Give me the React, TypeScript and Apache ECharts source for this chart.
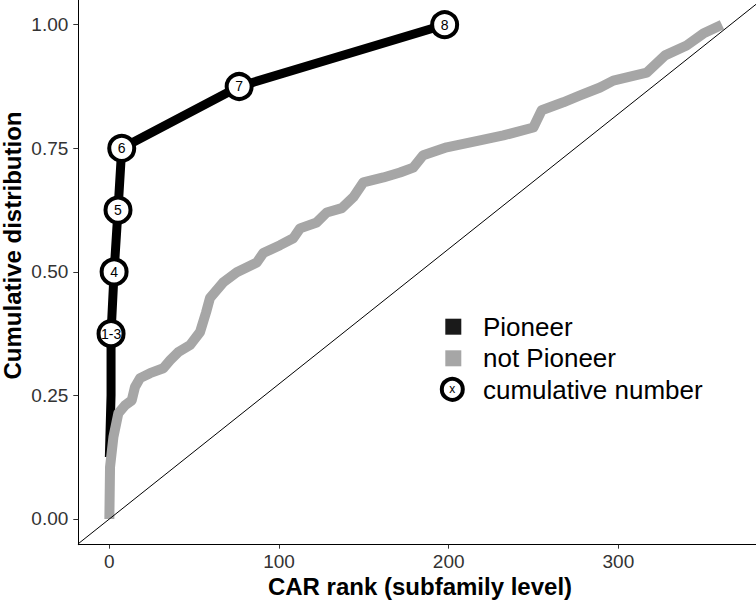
import React, { useEffect, useRef } from "react";
import * as echarts from "echarts";

// ---- data ----
const xTickValues = [0, 100, 200, 300];
const yTickValues = [0, 0.25, 0.5, 0.75, 1];

const pioneerRank = [0, 1, 1, 2.8, 5.1, 7.3, 76.5, 197.6];
const pioneerCum = [0.125, 0.25, 0.375, 0.5, 0.625, 0.75, 0.875, 1];
const pioneerLabels = ["", "", "1-3", "4", "5", "6", "7", "8"];

const notPioneerRank = [
  0, 0.4, 2.4, 5.3, 9.3, 13.2, 15.1, 18.1, 24.0, 31.8, 35.8, 40.7, 47.6, 53.4,
  57.0, 59.3, 67.2, 75.1, 86.9, 90.7, 100.6, 108.4, 112.4, 122.2, 128.1, 137.0,
  143.8, 149.7, 161.5, 171.3, 179.1, 185.0, 198.8, 218.4, 232.2, 249.9, 254.8,
  267.5, 277.4, 289.2, 297.0, 316.7, 327.5, 340.2, 350.0, 361,
];
const notPioneerCum = [
  0, 0.105, 0.166, 0.214, 0.23, 0.24, 0.267, 0.285, 0.295, 0.305, 0.321, 0.338,
  0.352, 0.378, 0.418, 0.447, 0.479, 0.499, 0.519, 0.538, 0.554, 0.568, 0.588,
  0.6, 0.62, 0.629, 0.651, 0.681, 0.691, 0.701, 0.711, 0.736, 0.752, 0.766,
  0.776, 0.792, 0.827, 0.843, 0.857, 0.873, 0.887, 0.903, 0.938, 0.958, 0.982,
  1.0,
];

const totalRanks = 366; // reference diagonal: cumulative = rank / totalRanks
const xMin = -18.3;
const xMax = 381.1;
const yMin = -0.052;
const yMax = 1.05;

const legendItems = ["Pioneer", "not Pioneer", "cumulative number"];

export default function App() {
  const ref = useRef<HTMLDivElement>(null);
  useEffect(() => {
    const chart = echarts.init(ref.current!, null, { renderer: "svg" });
    const font = "'Liberation Sans', Arial, Helvetica, sans-serif";
    const grayCol = "#a6a6a6";
    chart.setOption({
      animation: false,
      grid: {
        left: 78.3,
        right: 0,
        top: 0,
        bottom: 57.3,
        containLabel: false,
        outerBoundsMode: "none",
      },
      xAxis: {
        type: "value",
        min: xMin,
        max: xMax,
        splitLine: { show: false },
        axisLine: { show: true, onZero: false, lineStyle: { color: "#000", width: 1 } },
        axisTick: {
          show: true,
          length: 4,
          customValues: xTickValues,
          lineStyle: { color: "#333" },
        },
        axisLabel: {
          customValues: xTickValues,
          margin: 7,
          fontSize: 19,
          color: "#333",
          fontFamily: font,
          formatter: (v: number) => String(v),
        },
      },
      yAxis: {
        type: "value",
        min: yMin,
        max: yMax,
        splitLine: { show: false },
        axisLine: { show: true, onZero: false, lineStyle: { color: "#000", width: 1 } },
        axisTick: {
          show: true,
          length: 5,
          customValues: yTickValues,
          lineStyle: { color: "#333" },
        },
        axisLabel: {
          customValues: yTickValues,
          margin: 10,
          fontSize: 19,
          color: "#333",
          fontFamily: font,
          formatter: (v: number) => v.toFixed(2),
        },
      },
      series: [
        {
          type: "line",
          data: pioneerRank.map((x, i) => [x, pioneerCum[i]]),
          symbol: "none",
          lineStyle: { color: "#000", width: 9, cap: "butt", join: "round" },
          z: 2,
        },
        {
          type: "line",
          data: notPioneerRank.map((x, i) => [x, notPioneerCum[i]]),
          symbol: "none",
          lineStyle: { color: grayCol, width: 10, cap: "butt", join: "round" },
          z: 3,
        },
        {
          type: "line",
          data: [
            [xMin, xMin / totalRanks],
            [xMax, xMax / totalRanks],
          ],
          symbol: "none",
          lineStyle: { color: "#000", width: 1 },
          z: 4,
        },
        {
          type: "scatter",
          data: pioneerRank
            .map((x, i) => ({ value: [x, pioneerCum[i]], name: pioneerLabels[i] }))
            .filter((d) => d.name !== ""),
          symbol: "circle",
          symbolSize: 25,
          itemStyle: { color: "#fff", borderColor: "#000", borderWidth: 4, opacity: 1 },
          label: {
            show: true,
            position: "inside",
            formatter: "{b}",
            fontSize: 14,
            color: "#000",
            fontFamily: font,
          },
          z: 5,
        },
      ],
      graphic: [
        {
          type: "text",
          x: 420,
          y: 586,
          style: {
            text: "CAR rank (subfamily level)",
            font: `bold 24px ${font}`,
            fill: "#000",
            align: "center",
            verticalAlign: "middle",
            textAlign: "center",
            textVerticalAlign: "middle",
          },
        },
        {
          type: "text",
          x: 12.5,
          y: 245.5,
          rotation: Math.PI / 2,
          style: {
            text: "Cumulative distribution",
            font: `bold 24px ${font}`,
            fill: "#000",
            align: "center",
            verticalAlign: "middle",
            textAlign: "center",
            textVerticalAlign: "middle",
          },
        },
        {
          type: "rect",
          shape: { x: 445.3, y: 318.7, width: 16, height: 16 },
          style: { fill: "#1a1a1a" },
        },
        {
          type: "rect",
          shape: { x: 445.3, y: 350.3, width: 16, height: 16 },
          style: { fill: grayCol },
        },
        {
          type: "circle",
          shape: { cx: 452.3, cy: 389.3, r: 10.5 },
          style: { fill: "#fff", stroke: "#000", lineWidth: 4 },
        },
        {
          type: "text",
          x: 452.3,
          y: 389.3,
          style: {
            text: "x",
            font: `12px ${font}`,
            fill: "#000",
            align: "center",
            verticalAlign: "middle",
            textAlign: "center",
            textVerticalAlign: "middle",
          },
        },
        ...legendItems.map((t, i) => ({
          type: "text",
          x: 483,
          y: [326.5, 358.3, 389.5][i],
          style: {
            text: t,
            font: `26px ${font}`,
            fill: "#000",
            align: "left",
            verticalAlign: "middle",
            textAlign: "left",
            textVerticalAlign: "middle",
          },
        })),
      ],
    });
    return () => chart.dispose();
  }, []);
  return (
    <div
      ref={ref}
      style={{ position: "absolute", left: 0, top: 0, width: 756, height: 602 }}
    />
  );
}
